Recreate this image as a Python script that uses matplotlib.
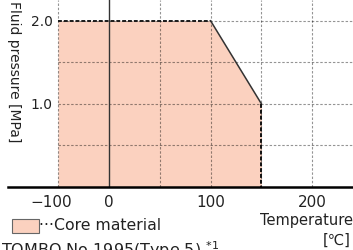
import numpy as np
import matplotlib
matplotlib.use('Agg')
import matplotlib.pyplot as plt
import matplotlib.transforms as mtrans
from matplotlib.patches import Rectangle

plt.rcParams['font.family'] = ['DejaVu Sans', 'Noto Sans CJK JP']

# data
temp = [-100, 100, 150]          # deg C
pressure = [2.0, 2.0, 1.0]       # MPa
x_ticks = [-100, 0, 100, 200]
x_labels = ['\u2212100', '0', '100', '200']
x_grid = [-100, 50, 100, 150, 200]
y_ticks = [1.0, 2.0]
y_labels = ['1.0', '2.0']
y_grid = [0.5, 1.0, 1.5, 2.0]

fill_col = '#fbd1bf'
text_col = '#222222'


# the negative side of the temperature axis is drawn at half scale
def fwd(x):
    x = np.asarray(x, float)
    return np.where(x < 0, x / 2, x)


def inv(x):
    x = np.asarray(x, float)
    return np.where(x < 0, x * 2, x)


W, H = 353, 250
fig = plt.figure(figsize=(W / 100, H / 100), dpi=100)
ax = fig.add_axes([58 / W, 63 / H, (W - 58) / W, 187 / H])
ax.set_xscale('function', functions=(fwd, inv))
ax.set_xlim(-100, 240)
ax.set_ylim(0, 2.25)

ax.fill_between(temp, pressure, 0, color=fill_col, lw=0, zorder=1)

grid_kw = dict(color='k', alpha=0.42, lw=0.8, ls=(0, (2.2, 1.6)), zorder=2)
for g in y_grid:
    ax.axhline(g, **grid_kw)
for g in x_grid:
    ax.axvline(g, clip_on=False, **grid_kw)

# outline of the operating range
ax.plot(temp[:2], pressure[:2], color='#1a1a1a', lw=1.4, ls=(0, (2, 1)), zorder=3)
ax.plot(temp[1:], pressure[1:], color='#333333', lw=1.1, zorder=3)
ax.plot([temp[-1], temp[-1]], [pressure[-1], 0], color='#111111', lw=1.4,
        ls=(0, (2, 1)), zorder=3)

ax.axvline(0, color='#333333', lw=1.0, zorder=3)
ax.axhline(0, xmin=-50 / 295, xmax=1, color='k', lw=1.8, clip_on=False, zorder=4)

for s in ax.spines.values():
    s.set_visible(False)
ax.set_xticks(x_ticks, x_labels)
ax.set_yticks(y_ticks, y_labels)
ax.tick_params(length=0, colors=text_col)
ax.tick_params(axis='x', pad=6, labelsize=11)
ax.tick_params(axis='y', pad=4, labelsize=10)
ax.minorticks_off()

# the -100 label sits a little left of its grid line
lbl = ax.get_xticklabels()[0]
lbl.set_transform(lbl.get_transform()
                  + mtrans.ScaledTranslation(-7 / 100, 0, fig.dpi_scale_trans))

ax.set_ylabel('Fluid pressure [MPa]', rotation=-90, fontsize=10, color=text_col)
ax.yaxis.set_label_coords(-51 / 295, 1.0 - 72 / 187)

fig.text(1.0, 1 - 220 / H, 'Temperature', ha='right', va='center',
         fontsize=10.5, color=text_col)
fig.text(351 / W, 1 - 240 / H, '[\u2103]', ha='right', va='center',
         fontsize=10.5, color=text_col)

# legend
fig.patches.append(Rectangle((12 / W, 1 - 233 / H), 27 / W, 14 / H,
                             transform=fig.transFigure, facecolor=fill_col,
                             edgecolor='#666666', lw=0.8))
fig.text(39 / W, 1 - 226 / H, '\u00b7\u00b7\u00b7Core material', ha='left',
         va='center', fontsize=11.3, color=text_col)
fig.text(1 / W, 1 - 239 / H, r'TOMBO No.1995(Type 5) $^{*1}$', ha='left',
         va='top', fontsize=11.5, color=text_col)

fig.savefig('out.png', dpi=100)
